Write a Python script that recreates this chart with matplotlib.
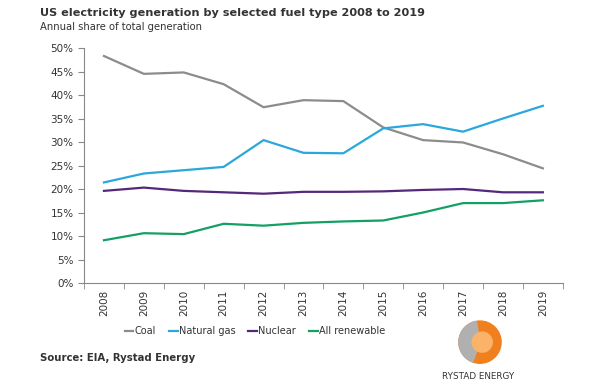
import numpy as np
import matplotlib
matplotlib.use("Agg")
import matplotlib.pyplot as plt
from matplotlib.patches import Circle, Wedge
from matplotlib.ticker import FixedLocator, FuncFormatter

years = [str(y) for y in range(2008, 2020)]
coal = [48.3, 44.5, 44.8, 42.3, 37.4, 38.9, 38.7, 33.1, 30.4, 29.9, 27.4, 24.4]
natural_gas = [21.4, 23.3, 24.0, 24.7, 30.4, 27.7, 27.6, 32.9, 33.8, 32.2, 35.0, 37.7]
nuclear = [19.6, 20.3, 19.6, 19.3, 19.0, 19.4, 19.4, 19.5, 19.8, 20.0, 19.3, 19.3]
renewable = [9.1, 10.6, 10.4, 12.6, 12.2, 12.8, 13.1, 13.3, 15.0, 17.0, 17.0, 17.6]

series = [
    ("Coal", coal, "#8c8c8c"),
    ("Natural gas", natural_gas, "#2aa8dc"),
    ("Nuclear", nuclear, "#55287a"),
    ("All renewable", renewable, "#14a064"),
]

plt.rcParams["font.family"] = ["DejaVu Sans"]
fig = plt.figure(figsize=(6, 3.84), dpi=100)
ax = fig.add_axes([0.14, 0.263, 0.798, 0.612])

x = np.arange(len(years))
for name, vals, color in series:
    ax.plot(x, vals, color=color, lw=1.6, label=name)

ax.set_xlim(-0.5, len(years) - 0.5)
ax.set_ylim(0, 50)
ax.set_yticks(np.arange(0, 51, 5))
ax.yaxis.set_major_formatter(FuncFormatter(lambda v, p: f"{v:.0f}%"))
ax.set_xticks(x)
ax.set_xticklabels(years, rotation=90)
ax.xaxis.set_minor_locator(FixedLocator(np.arange(-0.5, len(years), 1)))
ax.tick_params(axis="x", which="major", length=0, pad=5, labelsize=7.5, colors="#333333")
ax.tick_params(axis="x", which="minor", length=4, color="#888888")
ax.tick_params(axis="y", length=4, color="#888888", labelsize=7.5, labelcolor="#333333")
for s in ["top", "right"]:
    ax.spines[s].set_visible(False)
for s in ["left", "bottom"]:
    ax.spines[s].set_color("#888888")

leg = ax.legend(loc="center", bbox_to_anchor=(0.357, -0.205), ncol=4, frameon=False,
                fontsize=7, handlelength=0.9, handletextpad=0.15, columnspacing=1.3)
for t in leg.get_texts():
    t.set_color("#333333")

fig.text(0.067, 0.966, "US electricity generation by selected fuel type 2008 to 2019",
         fontsize=8.1, fontweight="bold", color="#333333", va="center")
fig.text(0.067, 0.929, "Annual share of total generation", fontsize=7.2,
         color="#333333", va="center")
fig.text(0.067, 0.068, "Source: EIA, Rystad Energy", fontsize=7.3,
         fontweight="bold", color="#333333", va="center")

# simple logo stand-in
logo = fig.add_axes([0.8 - 0.037, 0.109 - 0.058, 0.074, 0.116])
logo.set_xlim(-1, 1)
logo.set_ylim(-1, 1)
logo.set_aspect("equal")
logo.axis("off")
logo.add_patch(Circle((0, 0), 0.95, color="#f07f1e"))
logo.add_patch(Wedge((0, 0), 0.95, 100, 250, color="#b0b0b0"))
logo.add_patch(Circle((0.1, 0), 0.45, color="#fbb369"))
fig.text(0.797, 0.008, "RYSTAD ENERGY", fontsize=6.3, color="#333333",
         ha="center", va="bottom")

fig.savefig("out.png", dpi=100)
